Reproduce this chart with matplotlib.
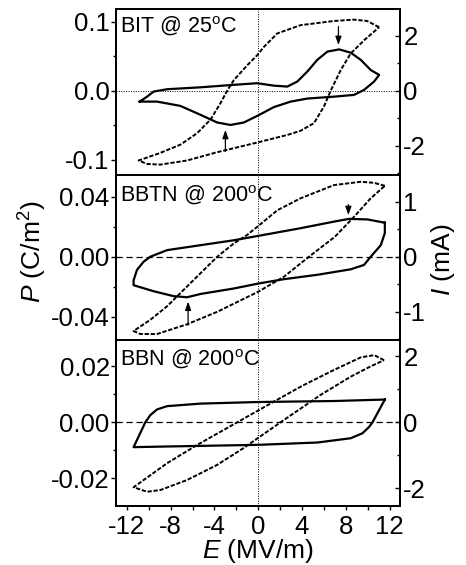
import matplotlib
matplotlib.use('Agg')
from matplotlib import pyplot as plt
from matplotlib.ticker import MultipleLocator, FormatStrFormatter

plt.rcParams['font.family'] = ['Liberation Sans', 'DejaVu Sans']
plt.rcParams['mathtext.fontset'] = 'custom'
plt.rcParams['mathtext.rm'] = 'Liberation Sans'
plt.rcParams['mathtext.it'] = 'Liberation Sans:italic'
plt.rcParams['axes.unicode_minus'] = False

# BIT @ 25C : P-E loop (left axis) and I-E loop (right axis)
bit_E = [11.05, 9.96, 8.75, 6.9, 3.87, 1.74, 0.52, -0.09, -1.0, -2.23, -2.84, -3.45, -4.37,
         -5.59, -7.1, -8.95, -10.93, -10.16, -8.95, -6.5, -3.75, -0.09, 2.66, 3.87, 5.09,
         6.0, 6.62, 7.54, 8.45, 9.67, 11.05]
bit_P = [0.092, 0.101, 0.103, 0.101, 0.095, 0.083, 0.0635, 0.0515, 0.037, 0.0154, 0.0, -0.018,
         -0.042, -0.0615, -0.078, -0.090, -0.101, -0.106, -0.107, -0.101, -0.089, -0.075,
         -0.064, -0.058, -0.047, -0.023, 0.0, 0.030, 0.054, 0.073, 0.092]
bit_Ei = [-10.84, -9.25, -7.12, -5.28, -3.75, -2.54, -1.32, -0.09, 1.43, 2.96, 4.48, 6.92, 8.75,
          9.67, 10.59, 11.05, 10.28, 9.37, 8.45, 7.4, 6.32, 5.4, 4.48, 3.57, 2.66, 1.43, -0.09,
          -2.23, -5.28, -8.34, -9.56, -10.16, -10.84]
bit_I = [-0.40, -0.40, -0.556, -0.88, -1.16, -1.25, -1.16, -0.92, -0.60, -0.40, -0.29, -0.22,
         -0.156, 0.025, 0.33, 0.57, 0.75, 1.12, 1.38, 1.50, 1.42, 1.12, 0.69, 0.33, 0.147, 0.18,
         0.27, 0.21, 0.12, 0.05, -0.035, -0.22, -0.40]

# BBTN @ 200C
bbtn_E = [11.57, 10.59, 9.37, 6.92, 3.87, 1.74, 0.0, -1.03, -2.23, -3.75, -5.28, -6.81, -8.33,
          -9.86, -11.39, -10.78, -9.25, -6.5, -3.75, 0.0, 2.35, 4.63, 7.0, 8.76, 10.28, 11.57]
bbtn_P = [0.0473, 0.0493, 0.050, 0.0478, 0.039, 0.031, 0.0205, 0.0145, 0.0089, 0.0, -0.011,
          -0.022, -0.033, -0.042, -0.0495, -0.0515, -0.0515, -0.045, -0.0367, -0.0233, -0.0133,
          0.0, 0.0133, 0.0267, 0.039, 0.0473]
bbtn_Ei = [11.57, 11.57, 11.2, 10.28, 9.67, 8.45, 5.4, 2.35, 0.0, -2.23, -5.28, -6.5, -7.73,
           -9.56, -11.39, -11.39, -11.08, -10.47, -9.86, -8.33, -5.28, -2.23, 0.0, 3.87, 6.92,
           8.3, 9.98, 11.57]
bbtn_I = [0.62, 0.43, 0.21, 0.0, -0.15, -0.23, -0.33, -0.41, -0.49, -0.58, -0.68, -0.74, -0.72,
          -0.63, -0.52, -0.43, -0.24, -0.09, 0.0, 0.12, 0.21, 0.30, 0.38, 0.52, 0.64, 0.69, 0.68,
          0.62]

# BBN @ 200C
bbn_E = [11.5, 10.6, 9.37, 6.92, 4.0, 1.43, -1.92, -5.59, -8.33, -11.39, -10.16, -8.95, -6.5,
         -3.75, -1.38, 2.04, 5.7, 8.45, 10.28, 11.5]
bbn_P = [0.0222, 0.024, 0.0232, 0.0187, 0.013, 0.0074, 0.0, -0.0081, -0.0146, -0.0232, -0.0248,
         -0.0242, -0.0206, -0.0152, -0.0093, 0.0, 0.0098, 0.0163, 0.0200, 0.0222]
bbn_Ei = [11.57, 6.92, 0.0, -5.28, -8.33, -9.25, -9.86, -10.32, -11.39, -8.33, 0.0, 5.4, 8.45,
          9.52, 10.13, 10.44, 11.57]
bbn_I = [0.69, 0.645, 0.615, 0.567, 0.49, 0.39, 0.22, 0.0, -0.75, -0.73, -0.68, -0.61, -0.48,
         -0.33, -0.14, 0.0, 0.69]

labels = [r'BIT @ 25$^{\rm o}$C', r'BBTN @ 200$^{\rm o}$C', r'BBN @ 200$^{\rm o}$C']
p_ticks = [[-0.1, 0.0, 0.1], [-0.04, 0.0, 0.04], [-0.02, 0.0, 0.02]]
i_ticks = [[-2, 0, 2], [-1, 0, 1], [-2, 0, 2]]
x_ticks = [-12, -8, -4, 0, 4, 8, 12]

# arrows marking the current peaks: (E, I start, I end)
arrows = [[(7.33, 2.33, 1.66), (-3.0, -2.22, -1.43)],
          [(8.24, 0.95, 0.76), (-6.41, -1.25, -0.82)],
          []]

P_data = [(bit_E, bit_P), (bbtn_E, bbtn_P), (bbn_E, bbn_P)]
I_data = [(bit_Ei, bit_I), (bbtn_Ei, bbtn_I), (bbn_Ei, bbn_I)]
p_lims = [(-0.122, 0.118), (-0.0555, 0.0545), (-0.0299, 0.0294)]
i_lims = [(-3.07, 2.96), (-1.52, 1.49), (-2.53, 2.49)]
p_minor = [0.05, 0.02, 0.01]
i_minor = [1, 0.5, 1]
p_fmt = ['%.1f', '%.2f', '%.2f']
zero_style = [(0, (1, 1.5)), (0, (5, 3)), (0, (5, 3))]

fig = plt.figure(figsize=(4.66, 5.65), dpi=100)
bottoms = [0.6903, 0.3982, 0.1044]
heights = [0.2933, 0.2920, 0.2938]
tfs = 18.5

for k in range(3):
    ax = fig.add_axes([0.2489, bottoms[k], 0.6105, heights[k]])
    ax2 = ax.twinx()
    ax.set_xlim(-13, 13)
    ax.set_ylim(*p_lims[k])
    ax2.set_ylim(*i_lims[k])

    ax.axhline(0, color='k', lw=0.9 if k else 0.7, ls=zero_style[k])
    ax.axvline(0, color='k', lw=0.7, ls=(0, (1, 1.5)))

    ax.plot(P_data[k][0], P_data[k][1], color='k', lw=1.4, ls=(0, (2.2, 0.9)))
    ax2.plot(I_data[k][0], I_data[k][1], color='k', lw=1.6)

    for e, i0, i1 in arrows[k]:
        ax2.annotate('', xy=(e, i1), xytext=(e, i0),
                     arrowprops=dict(arrowstyle='-|>,head_width=0.18,head_length=0.5',
                                     color='k', lw=0.9, shrinkA=0, shrinkB=0))

    ax.text(0.014, [0.895, 0.879, 0.883][k], labels[k], transform=ax.transAxes,
            fontsize=15.5, ha='left', va='center')

    ax.set_yticks(p_ticks[k])
    ax.yaxis.set_major_formatter(FormatStrFormatter(p_fmt[k]))
    ax.yaxis.set_minor_locator(MultipleLocator(p_minor[k]))
    ax2.set_yticks(i_ticks[k])
    ax2.yaxis.set_minor_locator(MultipleLocator(i_minor[k]))
    ax.set_xticks(x_ticks)
    ax.xaxis.set_minor_locator(MultipleLocator(2))

    ax.tick_params(axis='y', which='major', direction='out', length=3.5, width=1,
                   labelsize=tfs, pad=1)
    ax.tick_params(axis='y', which='minor', direction='out', length=2, width=1)
    ax.tick_params(axis='x', which='both', direction='out', length=3, width=1,
                   labelsize=tfs, pad=3.5, top=False)
    ax2.tick_params(axis='y', which='major', direction='in', length=3.5, width=1,
                    labelsize=tfs, pad=2)
    ax2.tick_params(axis='y', which='minor', direction='in', length=2, width=1)
    if k < 2:
        ax.tick_params(axis='x', labelbottom=False)
    for a in (ax, ax2):
        for s in a.spines.values():
            s.set_linewidth(1.3)

    if k == 2:
        ax.set_xlabel(r'$E$ (MV/m)', fontsize=19, labelpad=-1.5)

fig.text(33 / 466, 1 - 252 / 565, r'$P$ (C/m$^2$)', rotation=90, fontsize=19,
         ha='center', va='center')
fig.text(443 / 466, 1 - 260 / 565, r'$I$ (mA)', rotation=90, fontsize=19,
         ha='center', va='center')

plt.savefig('out.png', dpi=100)
plt.close()
